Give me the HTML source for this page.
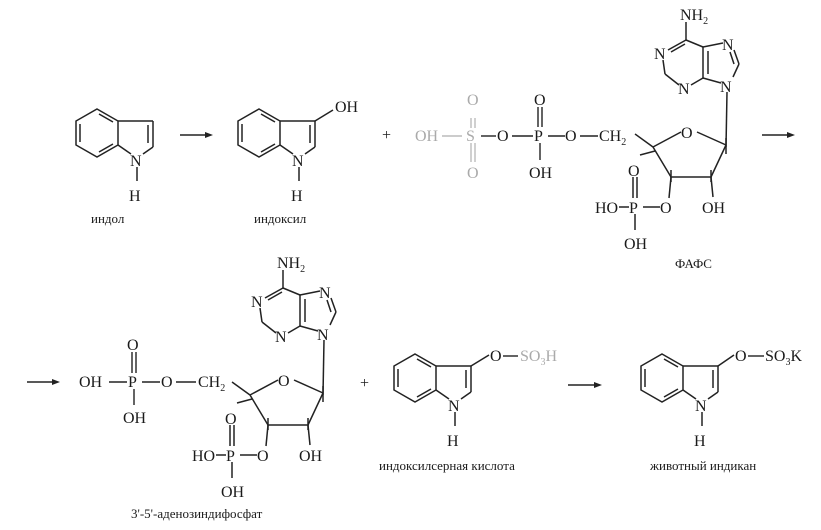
<!DOCTYPE html>
<html><head><meta charset="utf-8"><style>
html,body{margin:0;padding:0;background:#fff;}
svg{display:block;}
text{font-family:"Liberation Serif",serif;fill:#1a1a1a;}
.t{font-size:16px;}
.l{font-size:13px;}
.g{fill:#aaa;}
</style></head><body>
<svg width="821" height="530" viewBox="0 0 821 530" xmlns="http://www.w3.org/2000/svg">
<defs>
<g id="ind" stroke="#222" stroke-width="1.5" fill="none">
  <polygon points="0,-24 21,-12 21,12 0,24 -21,12 -21,-12"/>
  <line x1="2" y1="-19" x2="16" y2="-11"/>
  <line x1="-17" y1="-9" x2="-17" y2="9"/>
  <line x1="2" y1="19" x2="16" y2="11"/>
  <line x1="21" y1="-12" x2="56" y2="-12"/>
  <line x1="56" y1="-12" x2="56" y2="14"/>
  <line x1="51" y1="-8" x2="51" y2="10"/>
  <line x1="56" y1="14" x2="46" y2="21"/>
  <line x1="21" y1="12" x2="34" y2="21"/>
  <line x1="40" y1="34" x2="40" y2="48"/>
</g>
<g id="ado">
  <g stroke="#222" stroke-width="1.5" fill="none">
    <line x1="283" y1="270" x2="283" y2="288"/>
    <line x1="283" y1="288" x2="265" y2="298"/>
    <line x1="282" y1="292" x2="268" y2="300"/>
    <line x1="260" y1="308" x2="262" y2="322"/>
    <line x1="262" y1="322" x2="276" y2="333"/>
    <line x1="288" y1="333" x2="300" y2="326"/>
    <line x1="300" y1="326" x2="300" y2="295"/>
    <line x1="305" y1="322" x2="305" y2="299"/>
    <line x1="300" y1="295" x2="283" y2="288"/>
    <line x1="300" y1="295" x2="320" y2="291"/>
    <line x1="331" y1="298" x2="336" y2="312"/>
    <line x1="327" y1="300" x2="331" y2="312"/>
    <line x1="336" y1="312" x2="330" y2="325"/>
    <line x1="300" y1="326" x2="318" y2="331"/>
    <line x1="324" y1="340" x2="323" y2="395"/>
    <line x1="232" y1="382" x2="250" y2="395"/>
    <line x1="237" y1="403" x2="252" y2="399"/>
    <line x1="250" y1="395" x2="278" y2="380"/>
    <line x1="294" y1="380" x2="323" y2="393"/>
    <line x1="323" y1="393" x2="308" y2="425"/>
    <line x1="323" y1="386" x2="323" y2="402"/>
    <line x1="250" y1="395" x2="268" y2="425"/>
    <line x1="268" y1="425" x2="308" y2="425"/>
    <line x1="268" y1="418" x2="268" y2="430"/>
    <line x1="308" y1="418" x2="308" y2="430"/>
    <line x1="308" y1="425" x2="310" y2="445"/>
    <line x1="268" y1="425" x2="266" y2="446"/>
    <line x1="216" y1="455" x2="226" y2="455"/>
    <line x1="240" y1="455" x2="257" y2="455"/>
    <line x1="230" y1="425" x2="230" y2="446"/>
    <line x1="234" y1="425" x2="234" y2="446"/>
    <line x1="232" y1="462" x2="232" y2="478"/>
  </g>
  <text class="t" x="277" y="268">NH<tspan font-size="10" dy="4">2</tspan></text>
  <text class="t" x="251" y="307">N</text>
  <text class="t" x="275" y="342">N</text>
  <text class="t" x="319" y="298">N</text>
  <text class="t" x="317" y="340">N</text>
  <text class="t" x="278" y="386">O</text>
  <text class="t" x="192" y="461">HO</text>
  <text class="t" x="226" y="461">P</text>
  <text class="t" x="225" y="424">O</text>
  <text class="t" x="257" y="461">O</text>
  <text class="t" x="221" y="497">OH</text>
  <text class="t" x="299" y="461">OH</text>
</g>
</defs>

<use href="#ind" x="97" y="133"/>
<text class="t" x="130" y="166">N</text>
<text class="t" x="129" y="201">H</text>
<text class="l" x="91" y="223">индол</text>
<line x1="180" y1="135" x2="210" y2="135" stroke="#222" stroke-width="1.4"/>
<polygon points="213,135 205,132 205,138" fill="#222"/>

<use href="#ind" x="259" y="133"/>
<line x1="315" y1="121" x2="333" y2="110" stroke="#222" stroke-width="1.5"/>
<text class="t" x="335" y="112">OH</text>
<text class="t" x="292" y="166">N</text>
<text class="t" x="291" y="201">H</text>
<text class="l" x="254" y="223">индоксил</text>
<text class="t" x="382" y="140">+</text>

<g stroke="#222" stroke-width="1.4">
  <line x1="442" y1="136" x2="462" y2="136" stroke="#bbb"/>
  <line x1="471" y1="118" x2="471" y2="128" stroke="#bbb"/>
  <line x1="475" y1="118" x2="475" y2="128" stroke="#bbb"/>
  <line x1="471" y1="143" x2="471" y2="162" stroke="#bbb"/>
  <line x1="475" y1="143" x2="475" y2="162" stroke="#bbb"/>
  <line x1="481" y1="136" x2="496" y2="136"/>
  <line x1="512" y1="136" x2="533" y2="136"/>
  <line x1="538" y1="107" x2="538" y2="127"/>
  <line x1="542" y1="107" x2="542" y2="127"/>
  <line x1="540" y1="143" x2="540" y2="160"/>
  <line x1="548" y1="136" x2="565" y2="136"/>
  <line x1="580" y1="136" x2="598" y2="136"/>
</g>
<text class="t g" x="415" y="141">OH</text>
<text class="t g" x="466" y="141">S</text>
<text class="t g" x="467" y="105">O</text>
<text class="t g" x="467" y="178">O</text>
<text class="t" x="497" y="141">O</text>
<text class="t" x="534" y="141">P</text>
<text class="t" x="534" y="105">O</text>
<text class="t" x="529" y="178">OH</text>
<text class="t" x="565" y="141">O</text>
<text class="t" x="599" y="141">CH<tspan font-size="10" dy="4">2</tspan></text>
<g transform="translate(403,-248)"><use href="#ado"/></g>
<line x1="762" y1="135" x2="792" y2="135" stroke="#222" stroke-width="1.4"/>
<polygon points="795,135 787,132 787,138" fill="#222"/>
<text class="l" x="675" y="268">ФАФС</text>

<line x1="27" y1="382" x2="57" y2="382" stroke="#222" stroke-width="1.4"/>
<polygon points="60,382 52,379 52,385" fill="#222"/>
<g stroke="#222" stroke-width="1.4">
  <line x1="109" y1="382" x2="127" y2="382"/>
  <line x1="132" y1="352" x2="132" y2="373"/>
  <line x1="136" y1="352" x2="136" y2="373"/>
  <line x1="134" y1="389" x2="134" y2="405"/>
  <line x1="142" y1="382" x2="160" y2="382"/>
  <line x1="176" y1="382" x2="196" y2="382"/>
</g>
<text class="t" x="79" y="387">OH</text>
<text class="t" x="128" y="387">P</text>
<text class="t" x="127" y="350">O</text>
<text class="t" x="123" y="423">OH</text>
<text class="t" x="161" y="387">O</text>
<text class="t" x="198" y="387">CH<tspan font-size="10" dy="4">2</tspan></text>
<use href="#ado"/>
<text class="l" x="131" y="518">3'-5'-аденозиндифосфат</text>
<text class="t" x="360" y="388">+</text>

<use href="#ind" x="415" y="378"/>
<line x1="471" y1="366" x2="489" y2="355" stroke="#222" stroke-width="1.5"/>
<text class="t" x="490" y="361">O</text>
<line x1="503" y1="356" x2="518" y2="356" stroke="#222" stroke-width="1.4"/>
<text class="t g" x="520" y="361">SO<tspan font-size="10" dy="4">3</tspan><tspan dy="-4">H</tspan></text>
<text class="t" x="448" y="411">N</text>
<text class="t" x="447" y="446">H</text>
<text class="l" x="379" y="470">индоксилсерная кислота</text>
<line x1="568" y1="385" x2="599" y2="385" stroke="#222" stroke-width="1.4"/>
<polygon points="602,385 594,382 594,388" fill="#222"/>

<use href="#ind" x="662" y="378"/>
<line x1="718" y1="366" x2="734" y2="355" stroke="#222" stroke-width="1.5"/>
<text class="t" x="735" y="361">O</text>
<line x1="748" y1="356" x2="764" y2="356" stroke="#222" stroke-width="1.4"/>
<text class="t" x="765" y="361">SO<tspan font-size="10" dy="4">3</tspan><tspan dy="-4">K</tspan></text>
<text class="t" x="695" y="411">N</text>
<text class="t" x="694" y="446">H</text>
<text class="l" x="650" y="470">животный индикан</text>
</svg>
</body></html>
